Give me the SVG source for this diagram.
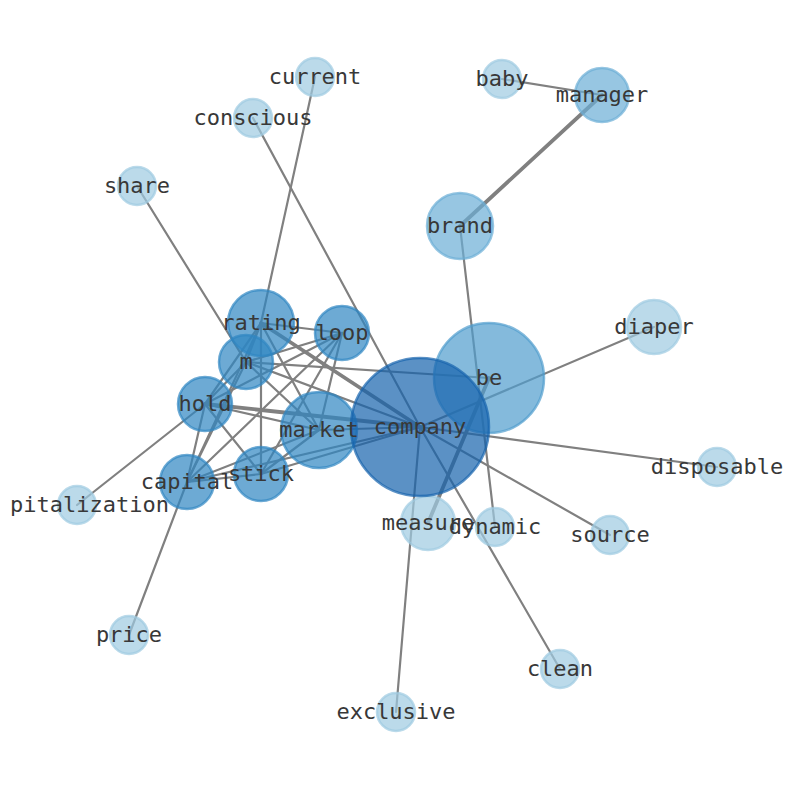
<svg xmlns="http://www.w3.org/2000/svg" width="794" height="790" viewBox="0 0 794 790">
<style>
.e{stroke:#808080;stroke-width:2.2;fill:none;stroke-linecap:round}
.t{stroke-width:3.8}
circle{stroke-width:2.5;fill-opacity:0.7;stroke-opacity:0.7}
.c1{fill:#9ecae1;stroke:#9ecae1}
.c2{fill:#6baed6;stroke:#6baed6}
.c3{fill:#509ccd;stroke:#509ccd}
.c4{fill:#2f86c2;stroke:#2f86c2}
.c5{fill:#1662ac;stroke:#1662ac}
text{font-family:"DejaVu Sans Mono","Liberation Mono",monospace;font-size:22px;fill:#383838;text-anchor:middle}
</style>
<rect width="794" height="790" fill="#fff"/>
<g id="edges">
<line class="e" x1="315" y1="77" x2="261" y2="323"/>
<line class="e" x1="253" y1="118" x2="420" y2="427"/>
<line class="e" x1="137" y1="186" x2="246" y2="362"/>
<line class="e" x1="502" y1="79" x2="602" y2="95"/>
<line class="e t" x1="602" y1="95" x2="460" y2="226"/>
<line class="e" x1="460" y1="226" x2="495" y2="527"/>
<line class="e" x1="261" y1="323" x2="342" y2="333"/>
<line class="e t" x1="261" y1="323" x2="420" y2="427"/>
<line class="e" x1="261" y1="323" x2="246" y2="362"/>
<line class="e" x1="261" y1="323" x2="205" y2="404"/>
<line class="e" x1="261" y1="323" x2="187" y2="482"/>
<line class="e" x1="261" y1="323" x2="261" y2="474"/>
<line class="e" x1="261" y1="323" x2="319" y2="430"/>
<line class="e" x1="342" y1="333" x2="246" y2="362"/>
<line class="e" x1="342" y1="333" x2="205" y2="404"/>
<line class="e" x1="342" y1="333" x2="187" y2="482"/>
<line class="e" x1="342" y1="333" x2="261" y2="474"/>
<line class="e" x1="342" y1="333" x2="319" y2="430"/>
<line class="e" x1="246" y1="362" x2="489" y2="378"/>
<line class="e" x1="246" y1="362" x2="420" y2="427"/>
<line class="e" x1="246" y1="362" x2="205" y2="404"/>
<line class="e" x1="246" y1="362" x2="187" y2="482"/>
<line class="e" x1="246" y1="362" x2="319" y2="430"/>
<line class="e" x1="205" y1="404" x2="319" y2="430"/>
<line class="e t" x1="205" y1="404" x2="420" y2="427"/>
<line class="e" x1="205" y1="404" x2="261" y2="474"/>
<line class="e" x1="205" y1="404" x2="187" y2="482"/>
<line class="e" x1="205" y1="404" x2="77" y2="505"/>
<line class="e" x1="187" y1="482" x2="261" y2="474"/>
<line class="e" x1="187" y1="482" x2="319" y2="430"/>
<line class="e" x1="187" y1="482" x2="420" y2="427"/>
<line class="e" x1="187" y1="482" x2="129" y2="635"/>
<line class="e" x1="261" y1="474" x2="319" y2="430"/>
<line class="e" x1="261" y1="474" x2="420" y2="427"/>
<line class="e" x1="319" y1="430" x2="420" y2="427"/>
<line class="e" x1="420" y1="427" x2="654" y2="327"/>
<line class="e" x1="420" y1="427" x2="717" y2="467"/>
<line class="e" x1="420" y1="427" x2="610" y2="535"/>
<line class="e" x1="420" y1="427" x2="560" y2="669"/>
<line class="e" x1="420" y1="427" x2="396" y2="712"/>
<line class="e t" x1="428" y1="523" x2="489" y2="378"/>
</g>
<g id="n-current"><circle class="c1" cx="315" cy="77" r="19"/></g>
<g id="n-conscious"><circle class="c1" cx="253" cy="118" r="19"/></g>
<g id="n-share"><circle class="c1" cx="137" cy="186" r="19"/></g>
<g id="n-baby"><circle class="c1" cx="502" cy="79" r="19"/></g>
<g id="n-disposable"><circle class="c1" cx="717" cy="467" r="19"/></g>
<g id="n-source"><circle class="c1" cx="610" cy="535" r="19"/></g>
<g id="n-dynamic"><circle class="c1" cx="495" cy="527" r="19"/></g>
<g id="n-price"><circle class="c1" cx="129" cy="635" r="19"/></g>
<g id="n-clean"><circle class="c1" cx="560" cy="669" r="19"/></g>
<g id="n-exclusive"><circle class="c1" cx="396" cy="712" r="19"/></g>
<g id="n-capitalization"><circle class="c1" cx="77" cy="505" r="19"/></g>
<g id="n-diaper"><circle class="c1" cx="654" cy="327" r="27"/></g>
<g id="n-measure"><circle class="c1" cx="428" cy="523" r="27"/></g>
<g id="n-manager"><circle class="c2" cx="602" cy="95" r="27"/></g>
<g id="n-brand"><circle class="c2" cx="460" cy="226" r="33"/></g>
<g id="n-be"><circle class="c3" cx="489" cy="378" r="55"/></g>
<g id="n-market"><circle class="c4" cx="319" cy="430" r="38"/></g>
<g id="n-stick"><circle class="c4" cx="261" cy="474" r="27"/></g>
<g id="n-capital"><circle class="c4" cx="187" cy="482" r="27"/></g>
<g id="n-hold"><circle class="c4" cx="205" cy="404" r="27"/></g>
<g id="n-loop"><circle class="c4" cx="342" cy="333" r="27"/></g>
<g id="n-rating"><circle class="c4" cx="261" cy="323" r="33"/></g>
<g id="n-m"><circle class="c4" cx="246" cy="362" r="27"/></g>
<g id="n-company"><circle class="c5" cx="420" cy="427" r="69"/></g>
<g id="labels">
<text x="315" y="84">current</text>
<text x="253" y="125">conscious</text>
<text x="137" y="193">share</text>
<text x="502" y="86">baby</text>
<text x="602" y="102">manager</text>
<text x="460" y="233">brand</text>
<text x="654" y="334">diaper</text>
<text x="489" y="385">be</text>
<text x="261" y="330">rating</text>
<text x="342" y="340">loop</text>
<text x="246" y="369">m</text>
<text x="205" y="411">hold</text>
<text x="319" y="437">market</text>
<text x="420" y="434">company</text>
<text x="717" y="474">disposable</text>
<text x="187" y="489">capital</text>
<text x="261" y="481">stick</text>
<text x="10" y="512" style="text-anchor:start">pitalization</text>
<text x="428" y="530">measure</text>
<text x="495" y="534">dynamic</text>
<text x="610" y="542">source</text>
<text x="129" y="642">price</text>
<text x="560" y="676">clean</text>
<text x="396" y="719">exclusive</text>
</g>
</svg>
